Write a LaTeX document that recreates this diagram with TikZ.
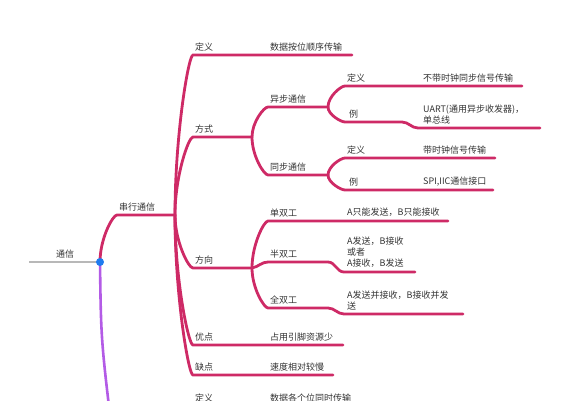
\documentclass[tikz,border=0pt]{standalone}
\usepackage{fontspec}
\setmainfont{Noto Sans CJK SC}
\usetikzlibrary{positioning,calc}
\definecolor{crimson}{HTML}{CE2A66}
\definecolor{lilac}{HTML}{B35BE6}
\definecolor{stemGray}{HTML}{B8B8B8}
\definecolor{hubBlue}{HTML}{1F7BEF}
\definecolor{ink}{HTML}{333333}
\tikzset{
  branch/.style={draw=crimson, line width=2.8pt, line cap=round},
  twig/.style={to path={.. controls ($(\tikztostart)!0.5!(\tikztostart|-\tikztotarget)$)
               and ($(\tikztostart|-\tikztotarget)!0.75!(\tikztotarget)$) .. (\tikztotarget) \tikztonodes}},
  topic/.style={anchor=south west, inner sep=0pt, text=ink, align=left,
                font=\fontsize{9}{11}\selectfont},
  hub/.style={circle, fill=hubBlue, inner sep=0pt, minimum size=8pt}
}
\begin{document}
\begin{tikzpicture}[x=1pt,y=-1pt]
\useasboundingbox (0,0) rectangle (570,400);
\clip (0,0) rectangle (570,400);
% junctions
\coordinate (start) at (29,262);
\coordinate (root) at (100,262);
\coordinate (serial) at (117,215);
\coordinate (serialEnd) at (175,215);
\coordinate (parEnd) at (113,440);
\coordinate (def) at (193,55);
\coordinate (defEnd) at (352,55);
\coordinate (way) at (193,137);
\coordinate (wayEnd) at (252,137);
\coordinate (async) at (268,107);
\coordinate (asyncEnd) at (328,107);
\coordinate (asyncDef) at (345,86);
\coordinate (asyncDefEnd) at (522,86);
\coordinate (asyncEx) at (345,122);
\coordinate (asyncExM) at (402,122);
\coordinate (asyncExN) at (418,128);
\coordinate (asyncExEnd) at (540,128);
\coordinate (sync) at (268,175);
\coordinate (syncEnd) at (328,175);
\coordinate (syncDef) at (345,158);
\coordinate (syncDefEnd) at (495,158);
\coordinate (syncEx) at (345,190);
\coordinate (syncExEnd) at (493,190);
\coordinate (dir) at (193,268);
\coordinate (dirEnd) at (252,268);
\coordinate (simplex) at (268,221);
\coordinate (simplexEnd) at (448,221);
\coordinate (half) at (268,262);
\coordinate (halfM) at (328,262);
\coordinate (halfN) at (344,272);
\coordinate (halfEnd) at (415,272);
\coordinate (full) at (268,308);
\coordinate (fullM) at (328,308);
\coordinate (fullN) at (344,314);
\coordinate (fullEnd) at (463,314);
\coordinate (pro) at (193,345);
\coordinate (proEnd) at (343,345);
\coordinate (con) at (193,375);
\coordinate (conEnd) at (333,375);

% connectors
\draw[draw=stemGray, line width=2.8pt] (start) -- (root);
\draw[draw=lilac, line width=2.6pt] (root) .. controls (101,340) .. (parEnd);
\draw[branch] (root) to[twig] (serial) -- (serialEnd);
\draw[branch] (serialEnd) to[twig] (def) -- (defEnd);
\draw[branch] (serialEnd) to[twig] (way) -- (wayEnd);
\draw[branch] (wayEnd) to[twig] (async) -- (asyncEnd);
\draw[branch] (asyncEnd) to[twig] (asyncDef) -- (asyncDefEnd);
\draw[branch] (asyncEnd) to[twig] (asyncEx) -- (asyncExM)
  to[out=0,in=180] (asyncExN) -- (asyncExEnd);
\draw[branch] (wayEnd) to[twig] (sync) -- (syncEnd);
\draw[branch] (syncEnd) to[twig] (syncDef) -- (syncDefEnd);
\draw[branch] (syncEnd) to[twig] (syncEx) -- (syncExEnd);
\draw[branch] (serialEnd) to[twig] (dir) -- (dirEnd);
\draw[branch] (dirEnd) to[twig] (simplex) -- (simplexEnd);
\draw[branch] (dirEnd) to[out=10,in=180] (half) -- (halfM)
  to[out=0,in=180] (halfN) -- (halfEnd);
\draw[branch] (dirEnd) to[twig] (full) -- (fullM)
  to[out=0,in=180] (fullN) -- (fullEnd);
\draw[branch] (serialEnd) to[twig] (pro) -- (proEnd);
\draw[branch] (serialEnd) to[twig] (con) -- (conEnd);
\node[hub] (dot) at (root) {};

% labels
\node[topic] (tRoot) at (56,258) {通信};
\node[topic] (tSerial) at (119,211) {串行通信};
\node[topic] (tDef) at (195,51) {定义};
\node[topic] (tDefLeaf) at (270,51) {数据按位顺序传输};
\node[topic] (tWay) at (195,133) {方式};
\node[topic] (tAsync) at (270,103) {异步通信};
\node[topic] (tAsyncDef) at (347,82) {定义};
\node[topic] (tAsyncDefLeaf) at (423,82) {不带时钟同步信号传输};
\node[topic] (tAsyncEx) at (349,118) {例};
\node[topic] (tAsyncExLeaf) at (423,124) {UART(通用异步收发器)，\\单总线};
\node[topic] (tSync) at (270,171) {同步通信};
\node[topic] (tSyncDef) at (347,154) {定义};
\node[topic] (tSyncDefLeaf) at (423,154) {带时钟信号传输};
\node[topic] (tSyncEx) at (349,186) {例};
\node[topic] (tSyncExLeaf) at (423,186) {SPI,IIC通信接口};
\node[topic] (tDir) at (195,264) {方向};
\node[topic] (tSimplex) at (270,217) {单双工};
\node[topic] (tSimplexLeaf) at (347,217) {A只能发送，B只能接收};
\node[topic] (tHalf) at (270,258) {半双工};
\node[topic] (tHalfLeaf) at (347,268) {A发送，B接收\\或者\\A接收，B发送};
\node[topic] (tFull) at (270,304) {全双工};
\node[topic] (tFullLeaf) at (347,310) {A发送并接收，B接收并发\\送};
\node[topic] (tPro) at (195,341) {优点};
\node[topic] (tProLeaf) at (270,341) {占用引脚资源少};
\node[topic] (tCon) at (195,371) {缺点};
\node[topic] (tConLeaf) at (270,371) {速度相对较慢};
\node[topic] (tParDef) at (195,402) {定义};
\node[topic] (tParLeaf) at (270,402) {数据各个位同时传输};
\end{tikzpicture}
\end{document}
